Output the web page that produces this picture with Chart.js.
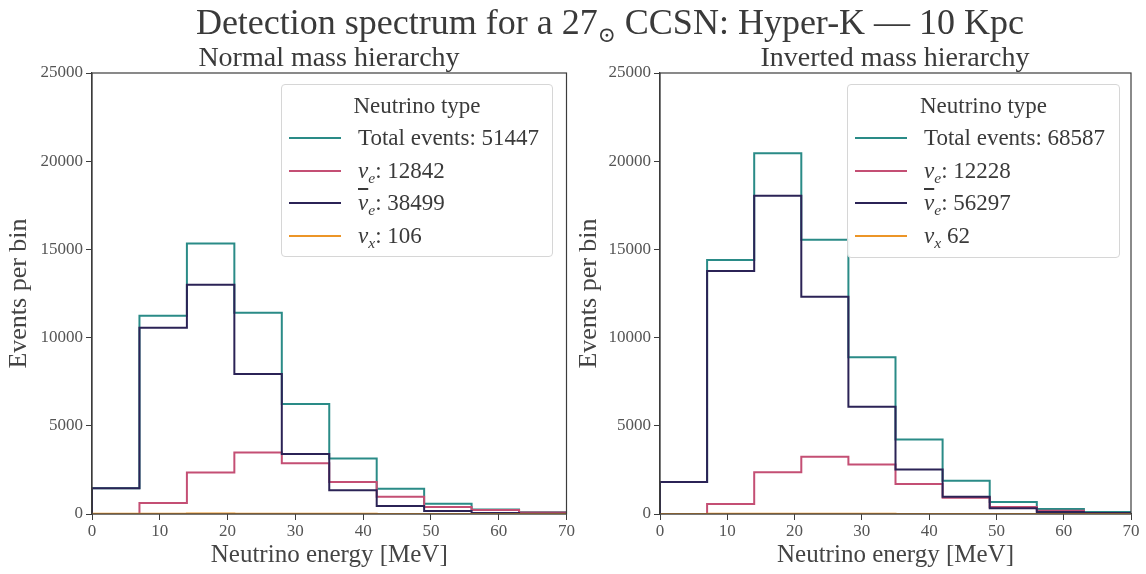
<!DOCTYPE html>
<html>
<head>
<meta charset="utf-8">
<script src="https://cdn.jsdelivr.net/npm/chart.js@4.4.0/dist/chart.umd.min.js"></script>
<style>
  body { margin: 0; background: #fff; }
  #fig { position: relative; width: 1146px; height: 574px; overflow: hidden;
         font-family: "Liberation Serif", "DejaVu Serif", serif; color: #3a3a3a; }
  canvas { position: absolute; top: 0; }
  .txt { position: absolute; white-space: nowrap; transform: translate(-50%, -50%); line-height: 1; }
  .legend { position: absolute; border: 1px solid #d6d6d6; border-radius: 4px;
            background: rgba(255, 255, 255, 0.92); box-sizing: border-box; }
  .legend .ttl { position: absolute; left: 0; right: 0; text-align: center; font-size: 23px; line-height: 1; }
  .legend .row { position: absolute; left: 0; height: 26px; width: 100%; }
  .legend .swatch { position: absolute; top: 12px; height: 2px; width: 52px; }
  .legend .lbl { position: absolute; top: 0; font-size: 23px; line-height: 26px; white-space: nowrap; }
  .legend sub { font-size: 0.68em; font-style: italic; vertical-align: -0.3em; line-height: 0; }
  .nu { font-style: italic; }
  .bar { text-decoration: overline; }
  .sun { font-size: 0.6em; vertical-align: -0.35em; line-height: 0; }
</style>
</head>
<body>
<div id="fig">
  <canvas id="normalChart" width="576" height="574" style="left:0"></canvas>
  <canvas id="invertedChart" width="576" height="574" style="left:570px"></canvas>
  <div class="txt" style="left:610px; top:22px; font-size:36px;">Detection spectrum for a 27<span class="sun">&#8857;</span> CCSN: Hyper-K &mdash; 10 Kpc</div>
  <div class="txt" style="left:329px; top:57px; font-size:28px;">Normal mass hierarchy</div>
  <div class="txt" style="left:895px; top:57px; font-size:28px;">Inverted mass hierarchy</div>
  <div class="legend" id="normalLegend" style="left:281px; top:84px; width:272px; height:173px;"></div>
  <div class="legend" id="invertedLegend" style="left:847px; top:84px; width:273px; height:174px;"></div>
</div>
<script>
// energy bins, 7 MeV wide
const binEdges = [0, 7, 14, 21, 28, 35, 42, 49, 56, 63, 70];

// events per bin, normal hierarchy
const normalTotal = [1460, 11240, 15340, 11410, 6240, 3150, 1430, 580, 260, 100];
const normalNue = [0, 630, 2350, 3480, 2880, 1820, 980, 400, 220, 80];
const normalNuebar = [1460, 10560, 13000, 7940, 3400, 1340, 450, 170, 60, 20];
const normalNux = [10, 20, 25, 20, 15, 8, 5, 2, 1, 0];

// events per bin, inverted hierarchy
const invertedTotal = [1820, 14400, 20450, 15550, 8880, 4220, 1880, 680, 280, 110];
const invertedNue = [0, 570, 2360, 3240, 2800, 1700, 920, 400, 180, 60];
const invertedNuebar = [1820, 13780, 18040, 12320, 6080, 2520, 980, 320, 120, 50];
const invertedNux = [6, 12, 14, 12, 8, 5, 3, 1, 1, 0];

const normalLabels = [
  "Total events: 51447",
  '<span class="nu">&nu;</span><sub>e</sub>: 12842',
  '<span class="nu bar">&nu;</span><sub>e</sub>: 38499',
  '<span class="nu">&nu;</span><sub>x</sub>: 106'
];
const invertedLabels = [
  "Total events: 68587",
  '<span class="nu">&nu;</span><sub>e</sub>: 12228',
  '<span class="nu bar">&nu;</span><sub>e</sub>: 56297',
  '<span class="nu">&nu;</span><sub>x</sub> 62'
];

const yTicks = [0, 5000, 10000, 15000, 20000, 25000];
const xTicks = [0, 10, 20, 30, 40, 50, 60, 70];

const colors = ["#2a8b87", "#c44f74", "#2b2356", "#ec9527"];
const axisColor = "#3c3c3c";
const textColor = "#555";
const serif = '"Liberation Serif", "DejaVu Serif", serif';

// outline of a step histogram: up at the first edge, across each bin, down at the last
function stepPoints(values) {
  const pts = [{ x: binEdges[0], y: 0 }];
  values.forEach((v, i) => {
    pts.push({ x: binEdges[i], y: v });
    pts.push({ x: binEdges[i + 1], y: v });
  });
  pts.push({ x: binEdges[binEdges.length - 1], y: 0 });
  return pts;
}

// box round the axes, drawn over the histograms like matplotlib spines
const framePlugin = {
  id: "frame",
  afterDatasetsDraw(chart) {
    const a = chart.chartArea;
    const ctx = chart.ctx;
    ctx.save();
    ctx.strokeStyle = axisColor;
    ctx.lineWidth = 1.2;
    ctx.strokeRect(a.left, a.top, a.right - a.left, a.bottom - a.top);
    ctx.restore();
  }
};

function renderPanel(canvasId, legendId, series, labels, yAxisWidth, padRight) {
  const ctx = document.getElementById(canvasId).getContext("2d");
  const orders = [3, 2, 1, 0];

  const chart = new Chart(ctx, {
    type: "line",
    data: {
      datasets: series.map((vals, i) => ({
        data: stepPoints(vals),
        borderColor: colors[i],
        borderWidth: 2,
        pointRadius: 0,
        fill: false,
        tension: 0,
        order: orders[i]
      }))
    },
    options: {
      responsive: false,
      animation: false,
      layout: { padding: { top: 73, right: padRight, left: 0, bottom: 0 } },
      plugins: { legend: { display: false }, tooltip: { enabled: false } },
      scales: {
        x: {
          type: "linear",
          min: binEdges[0],
          max: binEdges[binEdges.length - 1],
          afterBuildTicks: s => { s.ticks = xTicks.map(v => ({ value: v })); },
          ticks: { color: textColor, font: { family: serif, size: 17 }, padding: 1, maxRotation: 0 },
          grid: { drawOnChartArea: false, tickLength: 6, color: axisColor },
          border: { color: axisColor, width: 1.2 },
          title: {
            display: true, text: "Neutrino energy [MeV]", color: "#444",
            font: { family: serif, size: 25 }, padding: { top: 0, bottom: 4 }
          },
          afterFit: s => { s.height = 60; }
        },
        y: {
          min: 0,
          max: 25000,
          afterBuildTicks: s => { s.ticks = yTicks.map(v => ({ value: v })); },
          ticks: { color: textColor, font: { family: serif, size: 17 }, padding: 3, callback: v => String(v) },
          grid: { drawOnChartArea: false, tickLength: 6, color: axisColor },
          border: { color: axisColor, width: 1.2 },
          title: {
            display: true, text: "Events per bin", color: "#444",
            font: { family: serif, size: 26 }, padding: { top: 4, bottom: 0 }
          },
          afterFit: s => { s.width = yAxisWidth; }
        }
      }
    },
    plugins: [framePlugin]
  });

  // legend box built from the dataset colours
  const box = document.getElementById(legendId);
  let html = '<div class="ttl" style="top:9px">Neutrino type</div>';
  labels.forEach((lab, i) => {
    const top = Math.round(40 + i * 32.7);
    html += `<div class="row" style="top:${top}px">
      <div class="swatch" style="left:7px; background:${chart.data.datasets[i].borderColor}"></div>
      <div class="lbl" style="left:76px">${lab}</div></div>`;
  });
  box.innerHTML = html;
  return chart;
}

renderPanel("normalChart", "normalLegend",
  [normalTotal, normalNue, normalNuebar, normalNux], normalLabels, 92, 8);
renderPanel("invertedChart", "invertedLegend",
  [invertedTotal, invertedNue, invertedNuebar, invertedNux], invertedLabels, 90, 15);
</script>
</body>
</html>
